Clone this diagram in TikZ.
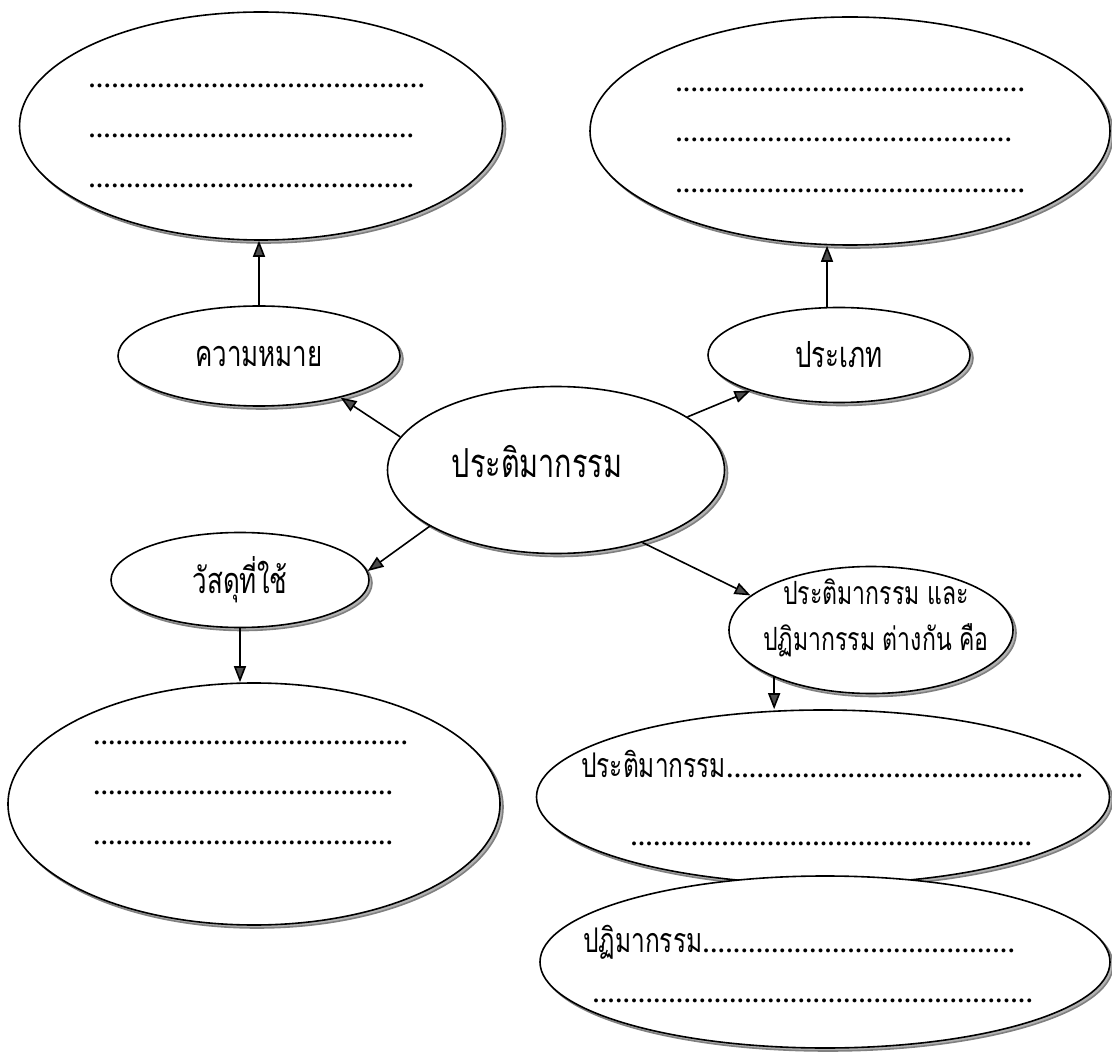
\documentclass[tikz,border=0pt]{standalone}
\usepackage{fontspec}
\setmainfont[Script=Thai]{Loma}
\newfontfamily\thaifont[Script=Thai,FakeStretch=0.72]{Loma}
\newfontfamily\dotfont{Liberation Serif}
\usetikzlibrary{arrows.meta,positioning,shapes.geometric,shadows}

% a row of dots, optionally after a word
\newcommand\dotrow[2][]{\hbox to #2{#1{\dotfont\bfseries\fontsize{24}{24}\selectfont
  \xleaders\hbox to 7.5pt{\hss.\hss}\hfill}}}

\tikzset{
  bubble/.style={
    ellipse, draw, line width=1.6pt, fill=white, inner sep=0pt,
    drop shadow={shadow xshift=3pt, shadow yshift=-3pt, fill=gray!60, draw=gray, opacity=1}
  },
  thaitext/.style={font=\thaifont\fontsize{36}{45}\selectfont},
  dots/.style={inner sep=0pt, anchor=base west, font=\thaifont\fontsize{34}{40}\selectfont},
  link/.style={line width=1.6pt, -{Triangle[length=16pt,width=12pt,fill=black!70]}}
}

\begin{document}
\begin{tikzpicture}[x=1pt,y=-1pt]
  \useasboundingbox (0,0) rectangle (1112,1056);

  % answer boxes
  \node[bubble, minimum width=483pt, minimum height=228pt] (meaningbox) at (261,126) {};
  \node[bubble, minimum width=520pt, minimum height=228pt] (typebox) at (850,131) {};
  \node[bubble, minimum width=492pt, minimum height=242pt] (materialbox) at (254,804) {};

  \foreach \y/\w [count=\i] in {88/337, 138/326, 188/326}
    \node[dots] (meaningdots\i) at (88,\y) {\dotrow{\w pt}};
  \foreach \y/\w [count=\i] in {92/350, 142/337, 193/350}
    \node[dots] (typedots\i) at (675,\y) {\dotrow{\w pt}};
  \foreach \y/\w [count=\i] in {744/315, 794/300, 844/300}
    \node[dots] (materialdots\i) at (93,\y) {\dotrow{\w pt}};

  % topics
  \node[bubble, thaitext, minimum width=282pt, minimum height=100pt] (meaning) at (259,356) {ความหมาย};
  \node[bubble, thaitext, minimum width=262pt, minimum height=95pt] (type) at (839,355) {ประเภท};
  \node[bubble, minimum width=337pt, minimum height=167pt] (sculpture) at (556,470) {};
  \node[font=\thaifont\fontsize{40}{48}\selectfont] (sculpturetext) at (537,462) {ประติมากรรม};
  \node[bubble, thaitext, minimum width=258pt, minimum height=95pt] (material) at (240,580) {วัสดุที่ใช้};
  \node[bubble, minimum width=284pt, minimum height=127pt] (differ) at (871,630) {};
  \node[font=\thaifont\fontsize{32}{46}\selectfont, align=center] (differtext) at (876,618)
    {ประติมากรรม และ\\ ปฏิมากรรม ต่างกัน คือ};

  \node[bubble, minimum width=573pt, minimum height=174pt] (sculptbox) at (823,797) {};
  \node[dots] (sculptline1) at (581,777) {\dotrow[ประติมากรรม]{502pt}};
  \node[dots] (sculptline2) at (630,845) {\dotrow{402pt}};

  \node[bubble, minimum width=570pt, minimum height=172pt] (reliefbox) at (825,962) {};
  \node[dots] (reliefline1) at (583,952) {\dotrow[ปฏิมากรรม]{432pt}};
  \node[dots] (reliefline2) at (592,1002) {\dotrow{441pt}};

  % arrows
  \draw[link] (meaning.north) -- (meaning.north |- meaningbox.south);
  \draw[link] (type.104) -- (type.104 |- typebox.south);
  \draw[link] (material.south) -- (material.south |- materialbox.north);
  \draw[link] (differ.206) -- (differ.206 |- sculptbox.north);

  \draw[link] (sculpture.168) -- (meaning.-27);
  \draw[link] (sculpture.22) -- (type.202);
  \draw[link] (sculpture.204) -- (material.4);
  \draw[link] (sculpture.-40) -- (differ.164);

\end{tikzpicture}
\end{document}
